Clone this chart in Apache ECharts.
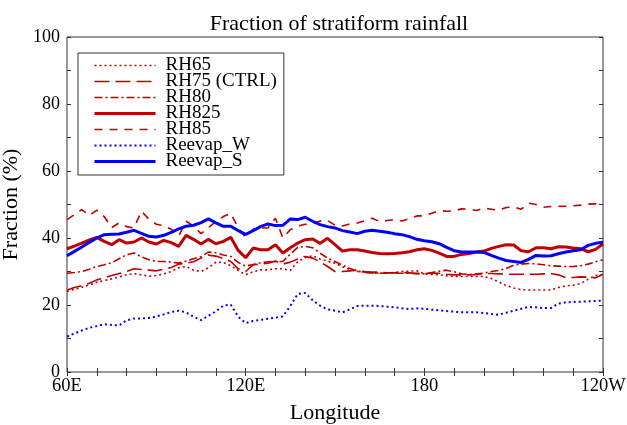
<!DOCTYPE html>
<html>
<head>
<meta charset="utf-8">
<script src="https://cdn.jsdelivr.net/npm/echarts@6/dist/echarts.min.js"></script>
<style>html,body{margin:0;padding:0;background:#fff}#c{width:627px;height:425px}</style>
</head>
<body>
<div id="c"></div>
<script>
// Longitude grid (degrees east, 60E .. 120W = 240)
const lons = [];
for (let i = 0; i <= 72; i++) lons.push(60 + 2.5 * i);

const xTickLabels = {60: '60E', 120: '120E', 180: '180', 240: '120W'};

const RH65 = [24.0,24.7,25.3,26.0,26.8,27.3,27.8,28.4,29.0,29.4,29.0,28.6,28.8,29.3,30.0,31.1,31.5,30.4,30.0,31.1,32.8,32.7,31.7,30.3,29.1,29.9,30.5,30.5,30.8,30.8,30.3,32.9,34.2,34.7,33.7,33.1,32.5,31.4,30.6,30.0,29.8,29.5,29.5,29.5,29.7,30.0,30.1,30.2,29.3,29.1,29.0,28.7,28.5,28.5,28.5,28.5,28.5,27.9,26.9,25.8,25.1,24.6,24.5,24.5,24.5,24.5,25.2,25.7,25.9,26.4,27.7,28.8,29.0];
const RH75 = [24.5,25.2,25.8,26.5,27.5,28.1,28.8,29.4,30.0,30.8,30.6,30.4,30.2,30.7,31.2,32.2,32.5,32.9,34.0,34.9,34.6,33.9,33.0,30.8,30.0,32.0,32.2,32.5,33.1,32.2,32.8,33.7,34.5,34.0,32.9,31.5,30.0,30.0,30.2,30.4,30.0,29.8,29.8,29.6,29.6,29.7,29.6,29.3,29.4,29.5,29.5,29.2,29.0,29.0,29.0,29.1,29.4,29.4,29.3,29.2,29.2,29.2,29.2,29.2,29.3,29.4,29.0,28.2,28.2,28.4,28.3,28.1,29.2];
const RH80 = [29.5,29.7,30.0,30.7,31.5,32.0,32.6,33.8,35.0,35.5,34.4,33.5,33.0,33.0,32.8,32.5,33.1,33.8,34.5,35.8,35.6,34.9,34.5,32.7,31.6,32.1,32.6,32.9,33.0,33.0,35.2,37.2,37.5,37.1,35.5,34.0,33.0,31.9,30.9,30.1,29.8,29.5,29.5,29.5,29.5,29.5,29.5,29.5,29.3,29.7,30.1,30.4,29.9,29.3,29.1,29.3,29.5,30.0,30.3,30.9,31.9,32.2,32.4,32.3,32.0,31.7,31.6,31.5,31.5,31.7,32.2,32.9,33.5];
const RH825 = [36.8,37.6,38.5,39.4,40.2,39.0,38.0,39.5,38.5,38.8,40.0,38.8,38.2,39.3,38.6,37.5,40.8,39.6,38.2,39.6,38.3,39.0,40.2,36.3,34.1,37.0,36.5,36.5,38.0,35.5,37.1,38.5,39.5,39.7,38.4,39.9,38.0,36.1,36.5,36.5,36.1,35.7,35.4,35.3,35.4,35.6,35.9,36.5,36.8,36.3,35.5,34.5,34.5,35.1,35.4,35.8,36.1,36.9,37.5,38.0,37.9,36.2,35.9,37.1,37.1,36.8,37.4,37.3,37.0,36.8,35.9,36.6,38.2];
const RH85 = [45.5,47.0,48.5,46.7,48.3,46.4,43.1,44.5,43.4,43.0,48.0,45.6,44.1,43.7,42.6,40.6,45.0,43.6,41.3,43.1,44.9,46.4,47.4,43.0,40.1,42.6,43.0,43.0,45.9,40.0,42.5,43.6,44.1,44.2,45.1,45.2,43.8,43.6,44.2,44.5,45.1,45.9,44.9,45.2,45.5,45.1,45.8,46.6,46.6,47.4,48.2,48.0,48.1,48.7,48.6,48.2,48.9,48.6,48.3,49.1,49.3,48.6,50.4,50.0,49.2,49.4,49.5,49.5,49.6,49.8,50.1,50.2,50.0];
const ReevapW = [10.6,11.5,12.4,13.2,13.7,14.3,14.0,13.9,15.4,16.0,16.0,16.1,16.6,17.2,17.9,18.3,17.8,16.5,15.5,16.8,18.1,19.8,20.1,16.5,14.6,15.2,15.6,15.9,16.2,16.6,19.7,23.3,23.6,21.4,19.8,18.7,18.3,17.8,18.7,19.7,19.8,19.8,19.7,19.5,19.3,19.0,18.8,19.0,18.9,18.6,18.4,18.2,18.0,17.8,17.8,17.8,17.6,17.3,17.1,17.7,18.3,18.9,19.4,19.3,19.1,19.1,20.4,20.8,20.9,21.0,21.1,21.2,21.3];
const ReevapS = [34.7,36.0,37.3,38.7,40.0,41.0,41.1,41.2,41.7,42.3,41.4,40.5,40.3,40.8,41.7,42.7,43.5,43.8,44.6,45.7,44.5,43.5,43.5,42.2,41.1,42.2,43.4,44.2,43.7,43.8,45.7,45.5,46.2,45.0,44.0,43.4,43.0,42.2,41.8,41.3,42.0,42.3,42.0,41.7,41.3,41.0,40.4,39.6,39.2,38.9,38.3,37.2,36.2,35.8,35.8,35.8,35.7,34.8,34.0,33.3,33.0,32.7,33.6,34.8,34.6,34.7,35.3,35.8,36.2,36.5,37.8,38.4,38.7];

const FONT = 'Liberation Serif';
const RED = '#c00000';
const BLUE = '#0000ff';

function pairs(vals) { return lons.map((l, i) => [l, vals[i]]); }

const seriesDefs = [
  {name: 'RH65', data: RH65, color: RED, width: 1.6, type: [2, 3]},
  {name: 'RH75 (CTRL)', data: RH75, color: RED, width: 1.6, type: [15, 6]},
  {name: 'RH80', data: RH80, color: RED, width: 1.6, type: [8, 3, 2, 3]},
  {name: 'RH825', data: RH825, color: RED, width: 3, type: 'solid'},
  {name: 'RH85', data: RH85, color: RED, width: 1.6, type: [8, 7]},
  {name: 'Reevap_W', data: ReevapW, color: BLUE, width: 2, type: [2, 3]},
  {name: 'Reevap_S', data: ReevapS, color: BLUE, width: 3, type: 'solid'}
];

const tickStyle = {show: true, inside: true, length: 4, lineStyle: {color: '#333'}};
const chart = echarts.init(document.getElementById('c'), null, {renderer: 'canvas'});
chart.setOption({
  backgroundColor: '#fff',
  animation: false,
  title: {
    text: 'Fraction of stratiform rainfall',
    left: 334, top: 8, textAlign: 'center',
    textStyle: {fontFamily: FONT, fontSize: 22, fontWeight: 'normal', color: '#000'}
  },
  legend: {
    orient: 'vertical', left: 78, top: 53,
    itemWidth: 61, itemHeight: 14, itemGap: -3,
    padding: [3, 7, 4, 15],
    borderColor: '#333', borderWidth: 1,
    itemStyle: {opacity: 0},
    textStyle: {fontFamily: FONT, fontSize: 19, color: '#000', padding: [0, 0, 0, 5]},
    data: seriesDefs.map(s => ({
      name: s.name,
      lineStyle: {color: s.color, width: s.width, type: s.type}
    }))
  },
  grid: {left: 67, right: 24, top: 37, bottom: 53, outerBoundsMode: 'none', containLabel: false,
    show: true, borderColor: '#333', borderWidth: 1, backgroundColor: 'transparent'},
  xAxis: [{
    type: 'value', min: 60, max: 240, interval: 10,
    name: 'Longitude', nameLocation: 'middle', nameGap: 30,
    nameTextStyle: {fontFamily: FONT, fontSize: 22, color: '#000'},
    axisLine: {show: false}, splitLine: {show: false}, axisTick: tickStyle,
    axisLabel: {fontFamily: FONT, fontSize: 18.5, color: '#000', margin: 5,
      formatter: v => xTickLabels[v] || ''}
  }, {
    type: 'value', position: 'top', min: 60, max: 240, interval: 10,
    axisLine: {show: false}, splitLine: {show: false}, axisTick: tickStyle, axisLabel: {show: false}
  }],
  yAxis: [{
    type: 'value', min: 0, max: 100, interval: 10,
    name: 'Fraction (%)', nameLocation: 'middle', nameGap: 39,
    nameTextStyle: {fontFamily: FONT, fontSize: 22, color: '#000'},
    axisLine: {show: false}, splitLine: {show: false}, axisTick: tickStyle,
    axisLabel: {fontFamily: FONT, fontSize: 18, color: '#000', margin: 7,
      formatter: v => (v % 20 === 0 ? String(v) : '')}
  }, {
    type: 'value', position: 'right', min: 0, max: 100, interval: 10,
    axisLine: {show: false}, splitLine: {show: false}, axisTick: tickStyle, axisLabel: {show: false}
  }],
  series: seriesDefs.map(s => ({
    name: s.name, type: 'line', data: pairs(s.data),
    symbol: 'none', showSymbol: false,
    itemStyle: {color: s.color},
    lineStyle: {color: s.color, width: s.width, type: s.type}
  }))
});
</script>
</body>
</html>
